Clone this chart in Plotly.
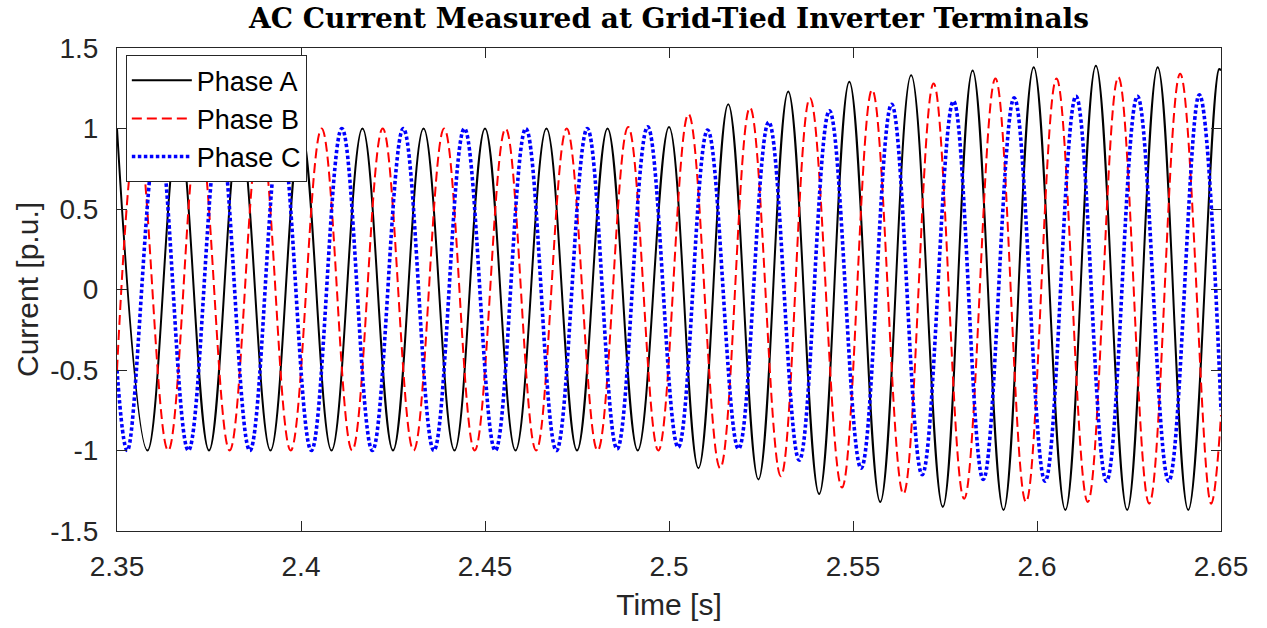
import plotly.graph_objects as go

# ---- data (extrema of each phase current, p.u.) ----
t_a = [2.3500, 2.3583, 2.3667, 2.3750, 2.3833, 2.3917, 2.4000, 2.4083, 2.4167,
       2.4250, 2.4333, 2.4417, 2.4500, 2.4583, 2.4667, 2.4750, 2.4833, 2.4915,
       2.5000, 2.5080, 2.5161, 2.5243, 2.5324, 2.5408, 2.5490, 2.5574, 2.5658,
       2.5744, 2.5825, 2.5909, 2.5991, 2.6077, 2.6160, 2.6245, 2.6328, 2.6411,
       2.6495, 2.6500]
i_a = [1.00, -1.00, 1.00, -1.00, 1.00, -1.00, 1.00, -1.00, 1.00,
       -1.00, 1.00, -1.00, 1.00, -1.00, 1.00, -1.00, 1.00, -1.00,
       1.01, -1.11, 1.15, -1.18, 1.23, -1.27, 1.29, -1.32, 1.33,
       -1.35, 1.36, -1.37, 1.38, -1.37, 1.39, -1.37, 1.38, -1.37,
       1.37, 1.36]

t_b = [2.3500, 2.3556, 2.3639, 2.3722, 2.3806, 2.3889, 2.3972, 2.4056, 2.4139,
       2.4222, 2.4306, 2.4389, 2.4472, 2.4556, 2.4639, 2.4722, 2.4806, 2.4889,
       2.4971, 2.5053, 2.5139, 2.5220, 2.5304, 2.5383, 2.5470, 2.5552, 2.5637,
       2.5719, 2.5802, 2.5887, 2.5970, 2.6053, 2.6138, 2.6221, 2.6305, 2.6389,
       2.6473, 2.6500]
i_b = [-0.50, 1.00, -1.00, 1.00, -1.00, 1.00, -1.00, 1.00, -1.00,
       1.00, -1.00, 1.00, -1.00, 1.00, -1.00, 1.00, -1.00, 1.01,
       -1.00, 1.09, -1.11, 1.13, -1.16, 1.19, -1.23, 1.24, -1.27,
       1.28, -1.30, 1.31, -1.32, 1.31, -1.32, 1.32, -1.33, 1.34,
       -1.33, -0.78]

t_c = [2.3500, 2.3528, 2.3611, 2.3694, 2.3778, 2.3861, 2.3944, 2.4028, 2.4111,
       2.4194, 2.4278, 2.4361, 2.4444, 2.4528, 2.4611, 2.4694, 2.4778, 2.4859,
       2.4942, 2.5025, 2.5105, 2.5189, 2.5271, 2.5354, 2.5436, 2.5522, 2.5605,
       2.5688, 2.5773, 2.5854, 2.5938, 2.6022, 2.6106, 2.6189, 2.6273, 2.6358,
       2.6441, 2.6500]
i_c = [-0.50, -1.00, 1.00, -1.00, 1.00, -1.00, 1.00, -1.00, 1.00,
       -1.00, 1.00, -1.00, 1.00, -1.00, 1.00, -1.00, 1.00, -0.99,
       1.01, -0.98, 0.99, -0.99, 1.04, -1.06, 1.11, -1.11, 1.15,
       -1.15, 1.17, -1.18, 1.19, -1.19, 1.20, -1.19, 1.20, -1.19,
       1.21, -0.75]

series_names = ["Phase A", "Phase B", "Phase C"]

x_ticks = [2.35, 2.40, 2.45, 2.50, 2.55, 2.60, 2.65]
x_tick_text = ["2.35", "2.4", "2.45", "2.5", "2.55", "2.6", "2.65"]
y_ticks = [-1.5, -1.0, -0.5, 0.0, 0.5, 1.0, 1.5]
y_tick_text = ["-1.5", "-1", "-0.5", "0", "0.5", "1", "1.5"]

title_text = "AC Current Measured at Grid-Tied Inverter Terminals"
x_title = "Time [s]"
y_title = "Current [p.u.]"

# ---- figure ----
AX = "#262626"
SANS = "Liberation Sans, Arial, sans-serif"

fig = go.Figure()
fig.add_trace(go.Scatter(
    x=t_a, y=i_a, mode="lines", name=series_names[0],
    line=dict(color="#000000", width=2, shape="spline", smoothing=1.1)))
fig.add_trace(go.Scatter(
    x=t_b, y=i_b, mode="lines", name=series_names[1],
    line=dict(color="#FF0000", width=2, dash="10px,5px", shape="spline", smoothing=1.1)))
fig.add_trace(go.Scatter(
    x=t_c, y=i_c, mode="lines", name=series_names[2],
    line=dict(color="#0000FF", width=3.6, dash="3.5px,2.5px", shape="spline", smoothing=1.1)))

axis_common = dict(
    showgrid=False, zeroline=False, showline=True, linecolor=AX, linewidth=1,
    mirror="allticks", ticks="inside", ticklen=10, tickcolor=AX, tickwidth=1,
    tickfont=dict(family=SANS, size=28, color=AX),
)

fig.update_layout(
    width=1267, height=628,
    margin=dict(l=117, r=46, t=48, b=97),
    plot_bgcolor="white", paper_bgcolor="white",
    title=dict(text=title_text, x=0.5, xref="paper", xanchor="center",
               y=1 - 18 / 628, yref="container", yanchor="middle",
               font=dict(family="DejaVu Serif, serif", size=28, color="#000000", weight="bold")),
    xaxis=dict(range=[2.35, 2.65], tickvals=x_ticks, ticktext=x_tick_text,
               ticklabelstandoff=10,
               title=dict(text=x_title, font=dict(family=SANS, size=30, color=AX), standoff=13),
               **axis_common),
    yaxis=dict(range=[-1.5, 1.5], tickvals=y_ticks, ticktext=y_tick_text,
               ticklabelstandoff=12,
               title=dict(text=y_title, font=dict(family=SANS, size=30, color=AX), standoff=2),
               **axis_common),
    legend=dict(x=0.008, y=0.985, xanchor="left", yanchor="top",
                bgcolor="white", bordercolor=AX, borderwidth=1,
                font=dict(family=SANS, size=27, color="#000000"),
                itemwidth=60, tracegroupgap=0),
    showlegend=True,
)

fig.write_html("out.html", config={"displayModeBar": False},
               post_script="document.body.style.margin='0';")
